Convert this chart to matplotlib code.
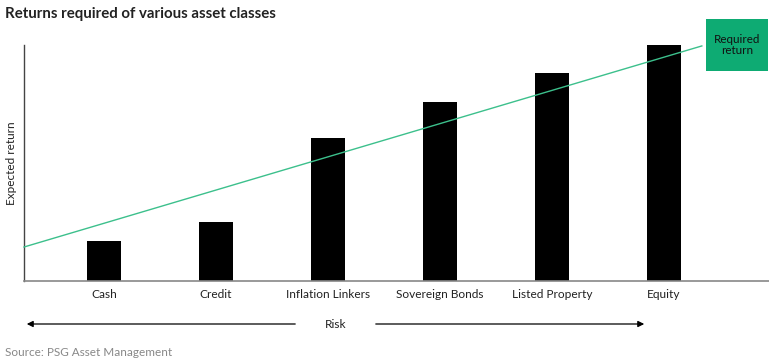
import matplotlib.pyplot as plt
from matplotlib.patches import Rectangle

plt.rcParams['font.family'] = ['Lato', 'DejaVu Sans']

# data
categories = ['Cash', 'Credit', 'Inflation Linkers', 'Sovereign Bonds', 'Listed Property', 'Equity']
expected_return = [17, 25, 60.5, 76, 88, 100]
line_x = [-0.714, 5.34]
line_y = [14.4, 99.6]

fig = plt.figure(figsize=(7.69, 3.61), dpi=100)
ax = fig.add_axes([24/769, 1-281/361, 1-24/769, (281-45)/361])

x = range(len(categories))
ax.bar(x, expected_return, width=0.3, color='black', zorder=2)
ax.plot(line_x, line_y, color='#3cc08c', lw=1.0, zorder=3, clip_on=False)

ax.set_xlim(-0.714, 5.94)
ax.set_ylim(0, 100)
ax.set_xticks(list(x))
ax.set_xticklabels(categories, fontsize=8.6, color='#222222')
ax.tick_params(axis='x', length=0, pad=6)
ax.set_yticks([])
for s in ['top', 'right']:
    ax.spines[s].set_visible(False)
ax.spines['bottom'].set_color('#888888')
ax.spines['bottom'].set_linewidth(1.2)
ax.spines['left'].set_color('#444444')
ax.spines['left'].set_linewidth(1.0)
ax.set_ylabel('Expected return', fontsize=8.5, color='#222222', labelpad=5)

# required return box
fig.patches.append(Rectangle((706/769, 1-71/361), 62/769, 52/361, transform=fig.transFigure,
                             facecolor='#0eab73', edgecolor='none', zorder=5))
fig.text(737/769, 1-45/361, 'Required\nreturn', ha='center', va='center', fontsize=8.4,
         color='#111111', linespacing=1.05, zorder=6)

# risk arrow
ya = 1-324/361
ax.annotate('', xy=(24/769, ya), xytext=(298/769, ya), xycoords='figure fraction',
            arrowprops=dict(arrowstyle='-|>', color='black', lw=0.9, mutation_scale=9))
ax.annotate('', xy=(647/769, ya), xytext=(373/769, ya), xycoords='figure fraction',
            arrowprops=dict(arrowstyle='-|>', color='black', lw=0.9, mutation_scale=9))
fig.text(336/769, ya, 'Risk', ha='center', va='center', fontsize=8.6, color='#222222')

fig.text(5/769, 1-14/361, 'Returns required of various asset classes', fontsize=10.8,
         fontweight='bold', color='#222222', va='center', ha='left')
fig.text(5/769, 1-352/361, 'Source: PSG Asset Management', fontsize=8.5, color='#888888',
         va='center', ha='left')

fig.savefig('out.png', dpi=100)
